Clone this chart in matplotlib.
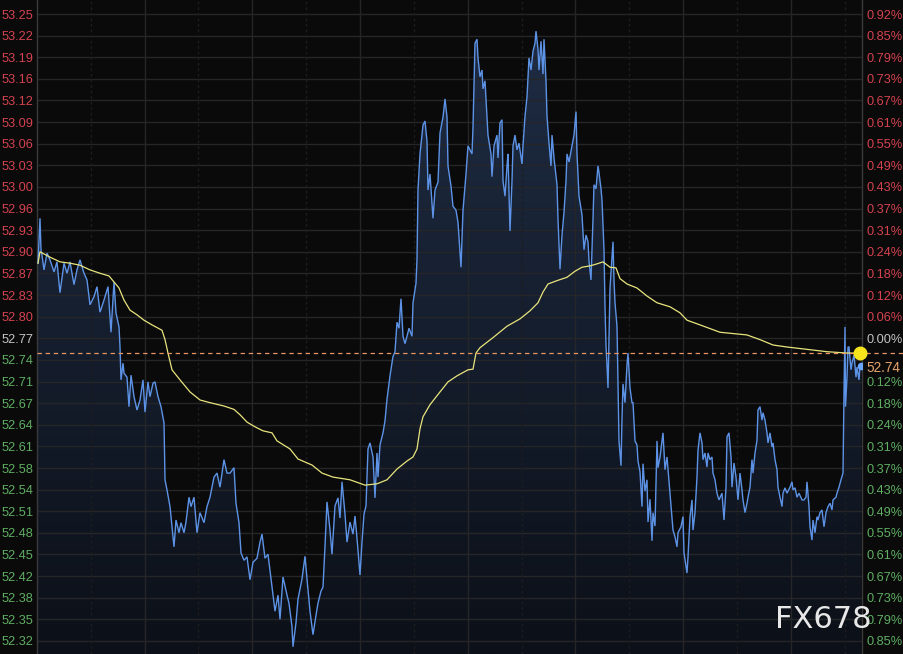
import numpy as np
import matplotlib
matplotlib.use("Agg")
import matplotlib.pyplot as plt
from matplotlib.colors import LinearSegmentedColormap

# ---------------- data ----------------
# time index (sample slots from session start) and price of the intraday line
seg1_t = [1, 3, 4, 5, 7, 10, 13, 17, 20, 23, 27, 30, 33, 37, 40, 43, 47, 50, 53, 57, 60, 63, 67, 71, 74, 77, 79, 82, 83, 84,
          86, 87, 90, 92, 94, 97, 100, 103, 106, 108, 111, 113, 116, 118, 121, 124, 127, 128, 130, 133, 135, 137, 139, 142,
          144, 147, 149, 152, 154, 157, 160, 163, 167, 170, 173, 177, 180, 183, 187, 190, 193, 197, 199, 202, 204, 207, 210, 213]
seg1_p = [52.882, 52.949, 52.902, 52.894, 52.872, 52.897, 52.887, 52.869, 52.884, 52.838, 52.882, 52.867, 52.884, 52.850,
          52.872, 52.887, 52.867, 52.857, 52.820, 52.832, 52.847, 52.809, 52.827, 52.847, 52.779, 52.854, 52.808, 52.787,
          52.757, 52.708, 52.733, 52.718, 52.712, 52.668, 52.715, 52.683, 52.663, 52.678, 52.708, 52.660, 52.705, 52.683,
          52.703, 52.705, 52.683, 52.668, 52.644, 52.559, 52.544, 52.519, 52.489, 52.459, 52.499, 52.480, 52.495, 52.480,
          52.496, 52.533, 52.519, 52.533, 52.480, 52.510, 52.495, 52.519, 52.533, 52.563, 52.569, 52.548, 52.589, 52.569,
          52.569, 52.577, 52.524, 52.495, 52.450, 52.439, 52.444, 52.410]

seg2_t = [216, 220, 223, 225, 228, 231, 235, 238, 241, 243, 246, 250, 252, 255, 256, 259, 261, 265, 268, 270, 273, 276, 279,
          281, 284, 286, 288, 290, 293, 295, 298, 301, 303, 305, 308, 310, 313, 316, 318, 320, 323, 325, 327, 329, 331, 333,
          336, 338, 340, 341, 343, 346, 348, 350, 353, 356, 358, 360, 362, 364, 366, 368, 370, 372, 375, 376, 379, 380, 381,
          383, 386, 388, 390, 391, 393, 396, 398, 401, 403, 406, 408, 410, 411, 414, 416, 419, 421, 424, 426, 429, 431]
seg2_p = [52.436, 52.442, 52.466, 52.478, 52.442, 52.448, 52.399, 52.363, 52.387, 52.351, 52.414, 52.387, 52.375, 52.340,
          52.310, 52.346, 52.381, 52.411, 52.445, 52.411, 52.363, 52.328, 52.357, 52.375, 52.393, 52.399, 52.460, 52.526,
          52.484, 52.448, 52.520, 52.532, 52.502, 52.556, 52.508, 52.466, 52.496, 52.478, 52.505, 52.472, 52.417, 52.466,
          52.508, 52.520, 52.605, 52.614, 52.593, 52.532, 52.599, 52.563, 52.611, 52.629, 52.647, 52.679, 52.714, 52.743,
          52.750, 52.794, 52.785, 52.829, 52.773, 52.762, 52.773, 52.785, 52.773, 52.823, 52.852, 52.888, 52.991, 53.045,
          53.088, 53.094, 53.064, 52.991, 53.015, 52.949, 52.991, 53.003, 53.076, 53.100, 53.127, 53.100, 53.027, 52.997,
          52.967, 52.961, 52.943, 52.876, 52.961, 53.015, 53.057]

seg3_t = [435, 436, 438, 440, 441, 443, 445, 446, 448, 450, 451, 454, 455, 457, 460, 461, 463, 465, 466, 468, 470, 471, 473,
          475, 476, 478, 480, 482, 485, 486, 488, 490, 492, 494, 496, 498, 499, 501, 502, 504, 506, 507, 509, 510, 512, 514,
          515, 517, 520, 521, 523, 525, 527, 529, 530, 532, 535, 537, 539, 540, 542, 545, 547, 549, 551, 552, 554, 556, 557,
          559, 561, 562, 564, 565, 567, 568, 569, 570, 571, 573, 575, 576, 577, 578, 580, 581, 582, 584, 585, 586, 588, 590,
          591, 593, 595, 596, 598, 600, 601, 603, 605, 606, 608, 610, 611, 613, 615, 616, 618, 620, 621]
seg3_p = [53.045, 53.085, 53.210, 53.216, 53.188, 53.160, 53.170, 53.142, 53.154, 53.101, 53.073, 53.045, 53.011, 53.057,
          53.073, 53.039, 53.091, 53.096, 53.005, 52.982, 53.027, 53.045, 52.930, 53.005, 53.057, 53.073, 53.051, 53.061,
          53.030, 53.057, 53.101, 53.130, 53.188, 53.170, 53.198, 53.210, 53.228, 53.201, 53.170, 53.213, 53.164, 53.216,
          53.154, 53.101, 53.061, 53.027, 53.073, 53.039, 52.999, 52.948, 52.873, 52.924, 52.958, 53.005, 53.045, 53.033,
          53.057, 53.073, 53.108, 53.045, 52.982, 52.954, 52.902, 52.924, 52.914, 52.885, 52.857, 52.948, 52.999, 52.993,
          53.027, 53.017, 52.993, 52.976, 52.902, 52.817, 52.759, 52.730, 52.696, 52.845, 52.890, 52.914, 52.856, 52.823,
          52.788, 52.702, 52.617, 52.580, 52.651, 52.702, 52.674, 52.730, 52.748, 52.696, 52.674, 52.674, 52.617, 52.611,
          52.587, 52.571, 52.519, 52.583, 52.542, 52.559, 52.496, 52.530, 52.468, 52.510, 52.490, 52.617, 52.577]

seg4_t = [623, 626, 628, 630, 633, 636, 638, 640, 641, 644, 646, 647, 650, 651, 653, 655, 656, 658, 660, 661, 663, 665, 666,
          668, 670, 671, 673, 675, 676, 678, 680, 682, 685, 687, 689, 690, 692, 694, 695, 697, 699, 701, 703, 705, 706, 708,
          710, 711, 713, 715, 716, 718, 720, 721, 723, 725, 726, 728, 730, 731, 733, 735, 736, 738, 740, 741, 743, 745, 746,
          748, 750, 753, 755, 756, 758, 760, 762, 765, 767, 769, 770, 772, 773, 775, 776, 778, 780, 781, 783, 785, 787, 789,
          791, 793, 795, 796, 799, 800, 802, 804, 806, 806.5, 807, 808, 808.5, 810, 811, 812, 814, 815, 817, 819, 820, 822,
          823, 824]
seg4_p = [52.593, 52.629, 52.574, 52.593, 52.539, 52.484, 52.474, 52.459, 52.480, 52.489, 52.504, 52.450, 52.420, 52.444,
          52.504, 52.529, 52.484, 52.510, 52.563, 52.603, 52.629, 52.614, 52.589, 52.599, 52.578, 52.599, 52.589, 52.593,
          52.569, 52.559, 52.539, 52.529, 52.539, 52.499, 52.548, 52.623, 52.629, 52.593, 52.548, 52.584, 52.563, 52.529,
          52.569, 52.544, 52.529, 52.510, 52.524, 52.533, 52.548, 52.589, 52.569, 52.599, 52.618, 52.663, 52.668, 52.648,
          52.659, 52.648, 52.629, 52.614, 52.629, 52.608, 52.614, 52.589, 52.574, 52.548, 52.533, 52.519, 52.539, 52.547,
          52.539, 52.548, 52.556, 52.544, 52.547, 52.533, 52.539, 52.529, 52.529, 52.533, 52.556, 52.519, 52.489, 52.469,
          52.499, 52.480, 52.504, 52.499, 52.510, 52.514, 52.489, 52.510, 52.519, 52.524, 52.514, 52.529, 52.533, 52.539,
          52.548, 52.559, 52.569, 52.629, 52.689, 52.787, 52.668, 52.712, 52.757, 52.757, 52.723, 52.733, 52.745, 52.712,
          52.727, 52.708, 52.730, 52.729]

# average price line
avg_t = [1, 3, 13, 23, 33, 43, 53, 63, 72, 77, 82, 87, 93, 100, 107, 115, 125, 128, 131, 135, 143, 153, 163, 173, 187, 197,
         203, 210, 218, 226, 235, 240, 253, 261, 275, 285, 296, 313, 328, 340, 350, 360, 370, 376, 380, 383, 386, 393, 403,
         411, 420, 431, 436, 439, 443, 456, 470, 483, 493, 501, 506, 511, 520, 530, 538, 545, 553, 560, 566, 573, 579, 583,
         590, 600, 610, 620, 633, 643, 650, 663, 683, 710, 723, 736, 750, 773, 790, 810, 823]
avg_p = [52.882, 52.899, 52.891, 52.884, 52.882, 52.879, 52.872, 52.867, 52.863, 52.854, 52.845, 52.827, 52.812, 52.805,
         52.797, 52.790, 52.782, 52.768, 52.748, 52.723, 52.708, 52.690, 52.678, 52.674, 52.669, 52.664, 52.656, 52.645,
         52.638, 52.632, 52.629, 52.617, 52.605, 52.590, 52.581, 52.569, 52.563, 52.559, 52.551, 52.553, 52.559, 52.575,
         52.587, 52.593, 52.605, 52.635, 52.653, 52.671, 52.690, 52.705, 52.714, 52.723, 52.724, 52.748, 52.756, 52.771,
         52.788, 52.799, 52.811, 52.823, 52.839, 52.851, 52.856, 52.861, 52.870, 52.876, 52.878, 52.881, 52.884, 52.876,
         52.875, 52.859, 52.851, 52.845, 52.833, 52.823, 52.817, 52.808, 52.797, 52.790, 52.779, 52.775, 52.768, 52.760,
         52.757, 52.753, 52.750, 52.748, 52.748]

prev_close = 52.77
ref_line = 52.748
price_tag = "52.74"
left_labels = ["53.25", "53.22", "53.19", "53.16", "53.12", "53.09", "53.06", "53.03", "53.00", "52.96", "52.93", "52.90",
               "52.87", "52.83", "52.80", "52.77", "52.74", "52.71", "52.67", "52.64", "52.61", "52.58", "52.54", "52.51",
               "52.48", "52.45", "52.42", "52.38", "52.35", "52.32"]
right_labels = ["0.92%", "0.85%", "0.79%", "0.73%", "0.67%", "0.61%", "0.55%", "0.49%", "0.43%", "0.37%", "0.31%", "0.24%",
                "0.18%", "0.12%", "0.06%", "0.00%", "0.06%", "0.12%", "0.18%", "0.24%", "0.31%", "0.37%", "0.43%", "0.49%",
                "0.55%", "0.61%", "0.67%", "0.73%", "0.79%", "0.85%"]

# ---------------- layout / style ----------------
W, H = 904, 654
BG = "#0a0a0b"
GRID = "#262629"
RED = "#d4424f"
GREEN = "#5fae62"
GRAY = "#c4c4c4"
BLUE = "#5d93e6"
YEL = "#e8e47c"
ORANGE = "#e99564"
TAG = "#e6a46a"
tick_step = 0.03224
n_slots = 825
y_top, y_bot = 53.2745, 52.2992

t = np.array(seg1_t + seg2_t + seg3_t + seg4_t, dtype=float)
p = np.array(seg1_p + seg2_p + seg3_p + seg4_p, dtype=float)

fig = plt.figure(figsize=(W / 100, H / 100), dpi=100, facecolor=BG)
ax = fig.add_axes([37 / W, 0, n_slots / W, 1])
ax.set_facecolor(BG)

# gradient fill under the price line
poly = ax.fill_between(t, p, y_bot, facecolor="none", edgecolor="none")
cmap = LinearSegmentedColormap.from_list("f", ["#0c1018", "#1f2d45"])
grad = np.linspace(0, 1, 256)[:, None]
im = ax.imshow(grad, extent=[0, n_slots, y_bot, y_top], origin="lower", aspect="auto",
               cmap=cmap, zorder=1, interpolation="bilinear")
im.set_clip_path(poly.get_paths()[0], transform=ax.transData)

ax.set_xlim(0, n_slots)
ax.set_ylim(y_bot, y_top)

# grid
ks = list(range(15, -15, -1))
ticks = [prev_close + k * tick_step for k in ks]
for yv in ticks:
    ax.axhline(yv, color=GRID, lw=1.0, zorder=2)
for xv in [108, 215, 323, 431, 538, 646, 754]:
    ax.axvline(xv, color=GRID, lw=1.0, zorder=2)
for xv in [54, 161, 269, 377, 485, 592, 700, 808]:
    ax.axvline(xv, color="#1d1d20", lw=1.0, ls=(0, (2, 2)), zorder=2)

# lines
ax.plot(t, p, color=BLUE, lw=1.0, zorder=4, solid_joinstyle="miter")
ax.plot(avg_t, avg_p, color=YEL, lw=0.9, zorder=5)
ax.axhline(ref_line, xmin=0, xmax=(W - 37) / n_slots, color=ORANGE, lw=0.9,
           dashes=(3.5, 3), zorder=6, clip_on=False)
ax.plot([t[-1]], [p[-1]], "o", color="#6aa6ff", ms=4.5, zorder=7)
ax.plot([avg_t[-1]], [avg_p[-1]], "o", color="#f7e51c", ms=9, zorder=8, clip_on=False)

# axes / labels
for s in ["top", "bottom"]:
    ax.spines[s].set_visible(False)
for s in ["left", "right"]:
    ax.spines[s].set_color("#3a3a3d")
    ax.spines[s].set_linewidth(1.0)
ax.set_xticks([])
ax.set_yticks(ticks)
ax.set_yticklabels(left_labels, fontfamily="Liberation Sans", fontsize=9.2)
ax.tick_params(axis="y", length=0, pad=2.5)
for lab, k in zip(ax.get_yticklabels(), ks):
    lab.set_color(RED if k > 0 else (GRAY if k == 0 else GREEN))

ax2 = ax.twinx()
ax2.set_ylim(y_bot, y_top)
ax2.set_yticks(ticks)
ax2.set_yticklabels(right_labels, fontfamily="Liberation Sans", fontsize=9.2)
ax2.tick_params(axis="y", length=0, pad=3.2)
for s in ax2.spines.values():
    s.set_visible(False)
for lab, k in zip(ax2.get_yticklabels(), ks):
    lab.set_color(RED if k > 0 else (GRAY if k == 0 else GREEN))
    if k == -1:
        lab.set_visible(False)   # hidden behind the price tag in the reference

# price tag on the right
fig.text(866 / W, 1 - 368 / H, price_tag, color=TAG, fontsize=9.8,
         fontfamily="Liberation Sans", va="center", ha="left", zorder=11,
         bbox=dict(facecolor=BG, edgecolor="none", pad=1.2))

# watermark
fig.text(775 / W, 1 - 628 / H, "FX678", color="#e8e8e8", fontsize=22,
         fontfamily="DejaVu Sans", va="baseline", ha="left", zorder=12)

fig.savefig("out.png", dpi=100, facecolor=BG)
